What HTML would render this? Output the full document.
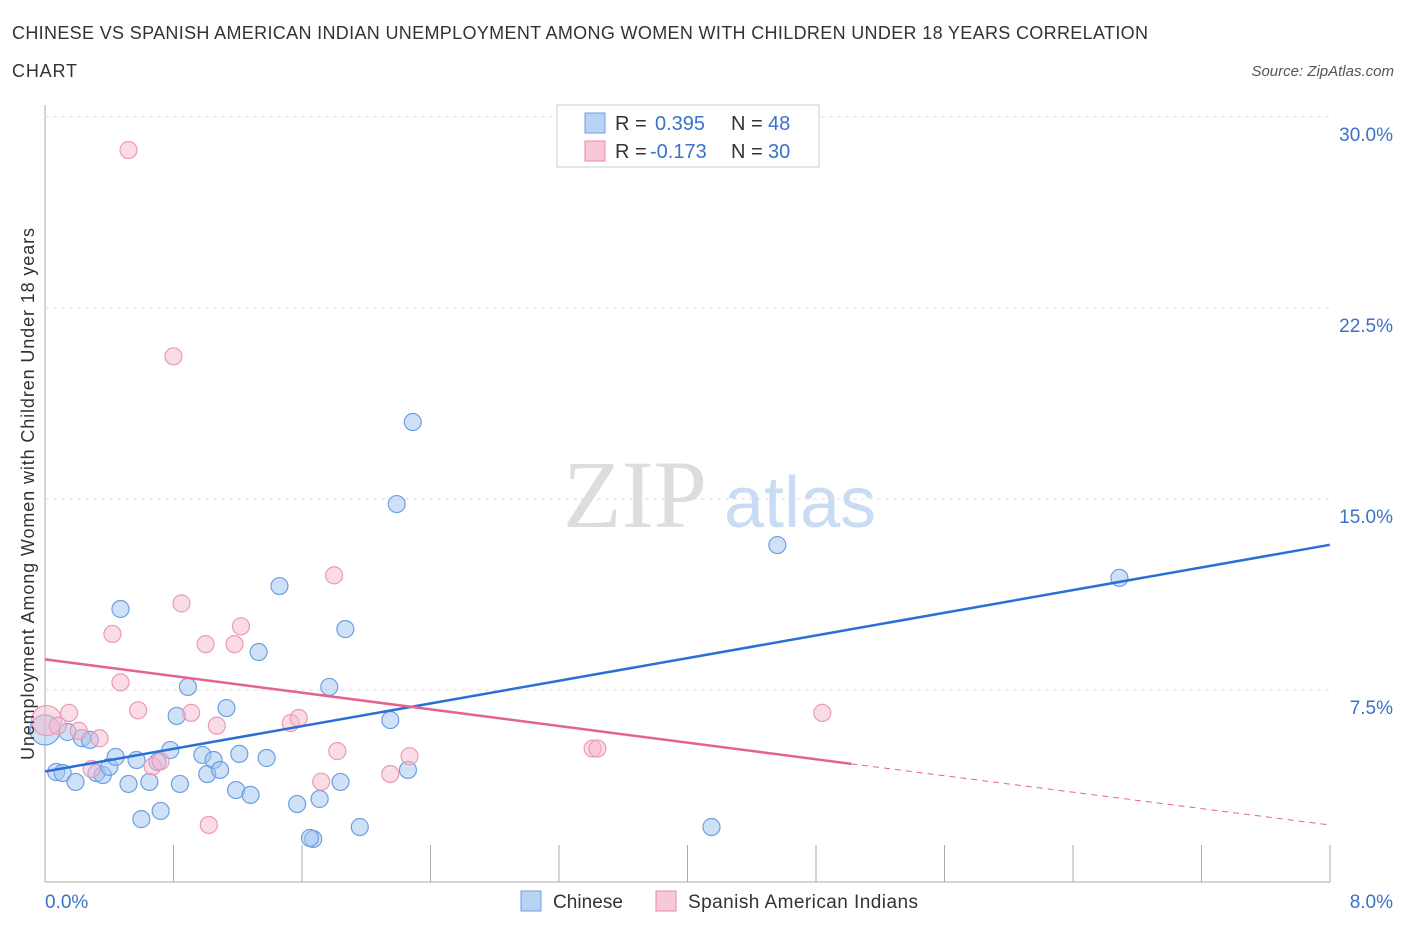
<!DOCTYPE html>
<html><head><meta charset="utf-8"><style>
body{margin:0;background:#fff;font-family:"Liberation Sans",sans-serif}
</style></head><body>
<svg width="1406" height="930" xmlns="http://www.w3.org/2000/svg">
<text x="12" y="39" font-size="18" fill="#333" textLength="1136">CHINESE VS SPANISH AMERICAN INDIAN UNEMPLOYMENT AMONG WOMEN WITH CHILDREN UNDER 18 YEARS CORRELATION</text>
<text x="12" y="77" font-size="18" fill="#333" textLength="65">CHART</text>
<text x="1394" y="76" font-size="15" fill="#555" font-style="italic" text-anchor="end">Source: ZipAtlas.com</text>
<g id="grid"></g>
<text x="635" y="527" font-size="96" fill="#ddd" font-family="Liberation Serif" text-anchor="middle">ZIP</text>
<text x="800" y="527" font-size="72" fill="#c9dcf3" text-anchor="middle">atlas</text>
<g id="pts"></g><g id="lines"></g>
<text transform="translate(34,494) rotate(-90)" font-size="18" fill="#333" text-anchor="middle" textLength="532">Unemployment Among Women with Children Under 18 years</text>
<text x="45" y="908" font-size="19" fill="#3a72c8">0.0%</text>
<text x="1393" y="908" font-size="19" fill="#3a72c8" text-anchor="end">8.0%</text>
<g>
<rect x="557" y="105" width="262" height="62" fill="#fff" stroke="#ccc"/>
<rect x="585" y="113" width="20" height="20" fill="#b9d3f5" stroke="#6fa0e0"/>
<rect x="585" y="141" width="20" height="20" fill="#f8c8d6" stroke="#e88aa8"/>
<text x="615" y="130" font-size="20" fill="#333">R =</text>
<text x="655" y="130" font-size="20" fill="#3a72c8">0.395</text>
<text x="731" y="130" font-size="20" fill="#333">N =</text>
<text x="768" y="130" font-size="20" fill="#3a72c8">48</text>
<text x="615" y="158" font-size="20" fill="#333">R =</text>
<text x="650" y="158" font-size="20" fill="#3a72c8">-0.173</text>
<text x="731" y="158" font-size="20" fill="#333">N =</text>
<text x="768" y="158" font-size="20" fill="#3a72c8">30</text>
</g>
<g>
<rect x="521" y="891" width="20" height="20" fill="#b9d3f5" stroke="#6fa0e0"/>
<text x="553" y="908" font-size="19" fill="#333" textLength="70">Chinese</text>
<rect x="656" y="891" width="20" height="20" fill="#f8c8d6" stroke="#e88aa8"/>
<text x="688" y="908" font-size="19" fill="#333" textLength="230">Spanish American Indians</text>
</g>
</svg>
<script>
const yTicks=[7.5,15,22.5,30];
const yTickLabels=["7.5%","15.0%","22.5%","30.0%"];
const chineseX=[0,0.07,0.11,0.14,0.19,0.23,0.28,0.32,0.36,0.4,0.44,0.47,0.52,0.57,0.6,0.65,0.7,0.72,0.78,0.82,0.84,0.89,0.98,1.01,1.05,1.09,1.13,1.19,1.21,1.28,1.33,1.38,1.46,1.57,1.67,1.71,1.77,1.84,1.87,1.96,2.15,2.19,2.26,2.29,4.15,4.56,6.69,1.65];
const chineseY=[5.93,4.28,4.24,5.85,3.89,5.61,5.54,4.24,4.16,4.48,4.87,10.68,3.81,4.75,2.43,3.89,4.67,2.75,5.14,6.48,3.81,7.62,4.95,4.2,4.75,4.36,6.79,3.57,4.99,3.38,8.99,4.83,11.58,3.02,1.65,3.22,7.62,3.89,9.89,2.12,6.32,14.8,4.36,18.02,2.12,13.19,11.9,1.69];
const spanishX=[0.01,0.08,0.15,0.21,0.29,0.34,0.47,0.42,0.52,0.58,0.67,0.72,0.8,0.85,0.91,1.0,1.02,1.07,1.18,1.22,1.53,1.58,1.72,1.8,1.82,2.15,2.27,3.41,3.44,4.84];
const spanishY=[6.3,6.1,6.6,5.9,4.4,5.6,7.8,9.7,28.7,6.7,4.5,4.7,20.6,10.9,6.6,9.3,2.2,6.1,9.3,10.0,6.2,6.4,3.9,12.0,5.1,4.2,4.9,5.2,5.2,6.6];
const blueLine=[[0,4.3],[8,13.2]];
const pinkLine=[[0,8.7],[5.02,4.6]];
const pinkDash=[[5.02,4.6],[8,2.2]];
const X=v=>45+v*160.6, Y=v=>881-v*25.47;
const NS="http://www.w3.org/2000/svg";
function mk(t,a,p){const e=document.createElementNS(NS,t);for(const k in a)e.setAttribute(k,a[k]);p.appendChild(e);return e;}
const g=document.getElementById('grid');
mk('line',{x1:45,y1:105,x2:45,y2:882,stroke:'#aaa'},g);
mk('line',{x1:45,y1:882,x2:1330,y2:882,stroke:'#aaa'},g);
for(let i=1;i<=10;i++){const x=45+i*128.5;const l=mk('line',{x1:x,y1:845,x2:x,y2:882,stroke:'#aaa'},g);}
yTicks.forEach((v,i)=>{const l=mk('line',{x1:45,y1:Y(v),x2:1330,y2:Y(v),stroke:'#ddd','stroke-dasharray':'4,4'},g);

const t=mk('text',{x:1393,y:Y(v)+24,'font-size':19,fill:'#3a72c8','text-anchor':'end'},g);t.textContent=yTickLabels[i];
});
const p=document.getElementById('pts');
chineseX.forEach((x,i)=>{const c=mk('circle',{cx:X(x),cy:Y(chineseY[i]),r:i==0?15:8.5,fill:'rgba(160,196,240,0.5)',stroke:'#6d9fe2','stroke-width':1.2},p);
});
spanishX.forEach((x,i)=>{const c=mk('circle',{cx:X(x),cy:Y(spanishY[i]),r:i==0?15:8.5,fill:'rgba(246,186,206,0.5)',stroke:'#ec9ab5','stroke-width':1.2},p);
});
const L=document.getElementById('lines');
function ln(a,col,w,d,n){const l=mk('line',{x1:X(a[0][0]),y1:Y(a[0][1]),x2:X(a[1][0]),y2:Y(a[1][1]),stroke:col,'stroke-width':w},L);if(d)l.setAttribute('stroke-dasharray',d);
}
ln(blueLine,'#2a6fd6',2.5,null,'chinese-trend-line');
ln(pinkLine,'#e6628f',2.5,null,'spanish-trend-line');
ln(pinkDash,'#e6628f',1,'6,5','spanish-trend-extension');
</script>
</body></html>
